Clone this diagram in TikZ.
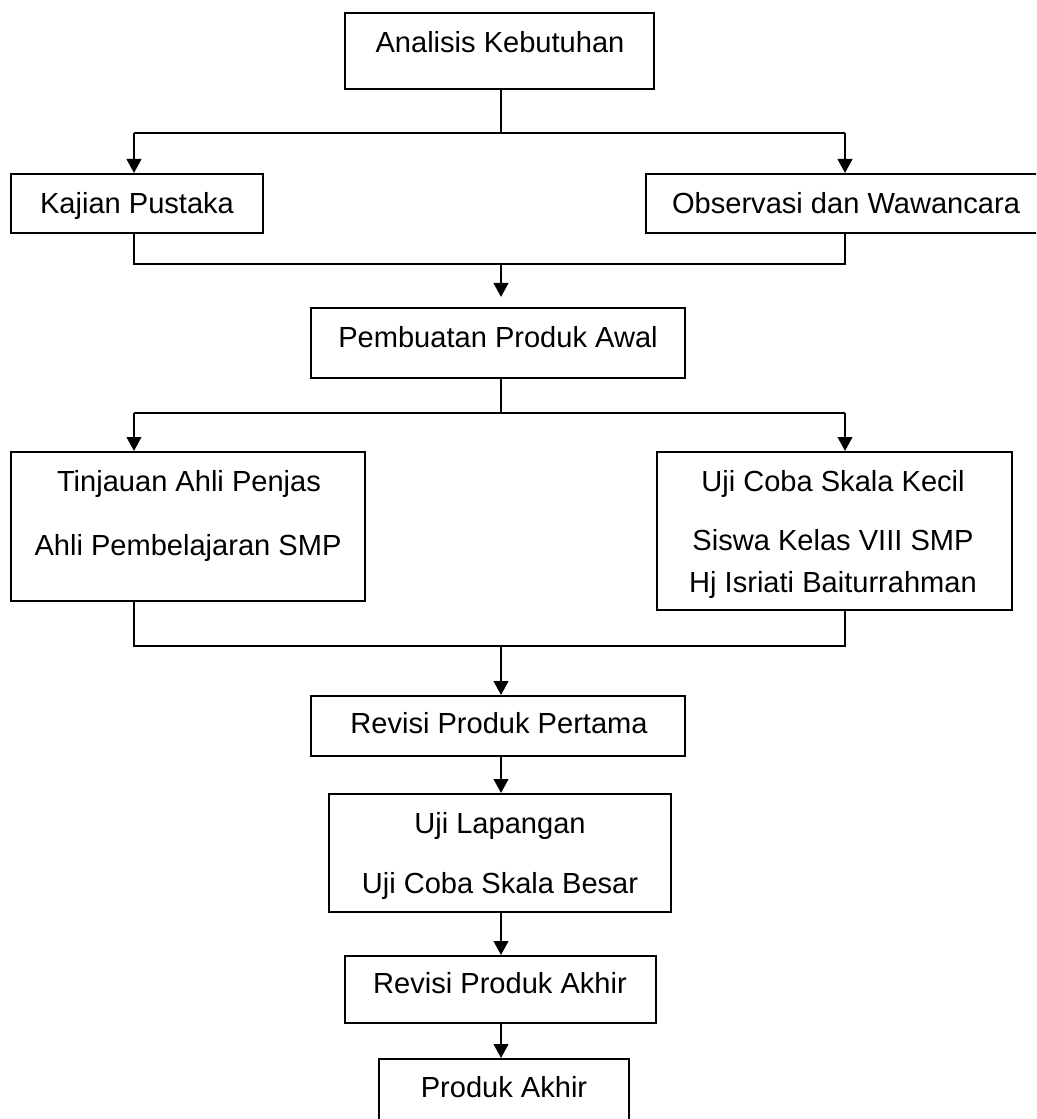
\documentclass[tikz,border=0pt]{standalone}
\usepackage{fontspec}
\setmainfont{Liberation Sans}
\usetikzlibrary{arrows.meta}
\begin{document}
\begin{tikzpicture}[x=0.75pt,y=-0.75pt,
  box/.style={draw, line width=1.5pt, inner sep=0pt},
  sz/.style 2 args={minimum width=#1*0.75pt, minimum height=#2*0.75pt},
  lbl/.style={font=\fontsize{21.8}{26}\selectfont, inner sep=0pt, anchor=center, text height=15.6pt, text depth=0pt},
  conn/.style={line width=1.5pt},
  arr/.style={line width=1.5pt, -{Triangle[length=10.5pt,width=11pt]}}]
\useasboundingbox (0,0) rectangle (1036,1119);
\clip (0,0) rectangle (1036,1119);
% boxes
\node[box, sz={309}{76}]  (ana)  at (499.5,51)   {};
\node[box, sz={252}{59}]  (kaj)  at (137,203.5)  {};
\node[box, sz={404}{59}]  (obs)  at (848,203.5)  {};
\node[box, sz={374}{70}]  (pem)  at (498,343)    {};
\node[box, sz={354}{149}] (tin)  at (188,526.5)  {};
\node[box, sz={355}{158}] (ujk)  at (834,531)    {};
\node[box, sz={374}{60}]  (rev1) at (498,726)    {};
\node[box, sz={342}{118}] (ujl)  at (500,853)    {};
\node[box, sz={311}{67}]  (rev2) at (500.5,989.5) {};
\node[box, sz={250}{81}]  (pak)  at (504,1099.5) {};
% texts
\node[lbl] (tana)  at (500,42)  {Analisis Kebutuhan};
\node[lbl] (tkaj)  at (137,203) {Kajian Pustaka};
\node[lbl] (tobs)  at (846,203) {Observasi dan Wawancara};
\node[lbl] (tpem)  at (498,337) {Pembuatan Produk Awal};
\node[lbl] (ttin1) at (189,481) {Tinjauan Ahli Penjas};
\node[lbl] (ttin2) at (188,545) {Ahli Pembelajaran SMP};
\node[lbl] (tujk1) at (833,481) {Uji Coba Skala Kecil};
\node[lbl] (tujk2) at (833,540) {Siswa Kelas VIII SMP};
\node[lbl] (tujk3) at (833,582) {Hj Isriati Baiturrahman};
\node[lbl] (trev1) at (499,723) {Revisi Produk Pertama};
\node[lbl] (tujl1) at (500,823) {Uji Lapangan};
\node[lbl] (tujl2) at (500,883) {Uji Coba Skala Besar};
\node[lbl] (trev2) at (500,983) {Revisi Produk Akhir};
\node[lbl] (tpak)  at (504,1087) {Produk Akhir};
% connector coordinates
\coordinate (sp) at (501,0);
\coordinate (l1) at (134,133);
\coordinate (r1) at (845,133);
\coordinate (l2) at (134,264);
\coordinate (r2) at (845,264);
\coordinate (t2) at (501,297);
\coordinate (l3) at (134,413);
\coordinate (r3) at (845,413);
\coordinate (l4) at (134,646);
\coordinate (r4) at (845,646);
% connectors
\draw[conn] (ana.south -| sp) -- (l1 -| sp);
\draw[conn] (l1) -- (r1);
\draw[arr] (l1) -- (l1 |- kaj.north);
\draw[arr] (r1) -- (r1 |- obs.north);
\draw[conn] (l2 |- kaj.south) -- (l2) -- (r2) -- (r2 |- obs.south);
\draw[arr] (l2 -| sp) -- (t2);
\draw[conn] (pem.south -| sp) -- (l3 -| sp);
\draw[conn] (l3) -- (r3);
\draw[arr] (l3) -- (l3 |- tin.north);
\draw[arr] (r3) -- (r3 |- ujk.north);
\draw[conn] (l4 |- tin.south) -- (l4) -- (r4) -- (r4 |- ujk.south);
\draw[arr] (l4 -| sp) -- (rev1.north -| sp);
\draw[arr] (rev1.south -| sp) -- (ujl.north -| sp);
\draw[arr] (ujl.south -| sp) -- (rev2.north -| sp);
\draw[arr] (rev2.south -| sp) -- (pak.north -| sp);
\end{tikzpicture}
\end{document}
